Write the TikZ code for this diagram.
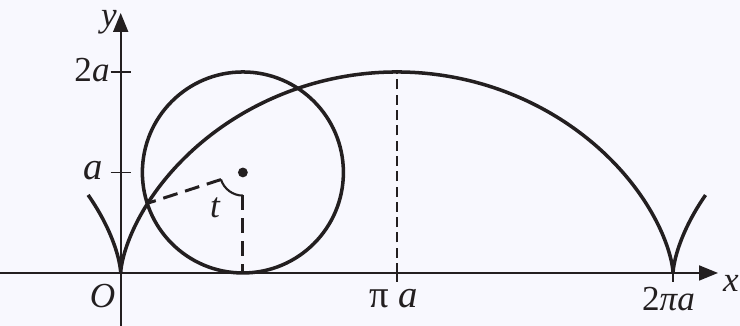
\documentclass[tikz,border=0pt]{standalone}
\usepackage{fontspec}
\setmainfont{Liberation Serif}
\usetikzlibrary{arrows.meta,calc}
\definecolor{paper}{HTML}{F8F8FE}
\definecolor{ink}{HTML}{231F20}

\begin{document}
\begin{tikzpicture}[x=1.758cm, y=2.01cm,
  every node/.style={inner sep=0pt, text=ink, font=\fontsize{20}{24}\selectfont\itshape},
  biglabel/.style={font=\fontsize{22}{26}\selectfont\itshape},
  axisline/.style={line width=1pt, draw=ink},
  axisarrow/.style={axisline, -{Triangle[length=0.38cm, width=0.3cm]}},
  curve/.style={line width=2pt, draw=ink},
  radial/.style={line width=1.7pt, draw=ink, dash pattern=on 8.5pt off 4.5pt},
  guide/.style={line width=1.4pt, draw=ink, dash pattern=on 5.7pt off 3pt}]

  % ── Page with its margins ─────────────────────────────────────
  \fill[paper] (-1.373,-0.527) rectangle (7.045,2.716);
  \useasboundingbox (-1.373,-0.527) rectangle (7.045,2.716);

  % ── Axes, ticks and their labels ──────────────────────────────
  \draw[axisarrow] (-1.373,0) -- (6.795,0);
  \draw[axisarrow] (0,-0.527) -- (0,2.587);
  \draw[axisline] (-0.114,1) -- (0.114,1);
  \draw[axisline] (-0.114,2) -- (0.114,2);
  \draw[axisline, line width=1.5pt] (pi,0.09) -- (pi,-0.09);
  \draw[axisline, line width=1.5pt] (2*pi,0.09) -- (2*pi,-0.09);

  \node (lblx) at (6.943,-0.1) {x};
  \node (lbly) at (-0.133,2.49) {y};
  \node (lblO) at (-0.207,-0.229) {O};
  \node[biglabel, anchor=east] (lbla) at (-0.2,1.02) {a};
  \node[anchor=east] (lbltwoa) at (-0.122,2.02) {{\upshape 2}a};
  \node[biglabel] (lblpia) at (3.109,-0.259) {{\upshape π} a};
  \node (lbltwopia) at (6.232,-0.259) {{\upshape 2}πa};

  % ── Highest point of the arch ─────────────────────────────────
  \draw[guide] (pi,0) -- (pi,2);

  % ── Cycloid, three arcs meeting at the cusps ──────────────────
  \draw[curve]
    plot[domain=-1.345:0, samples=60] ({\x - sin(\x r)}, {1 - cos(\x r)})
    plot[domain=0:6.2832, samples=240] ({\x - sin(\x r)}, {1 - cos(\x r)})
    plot[domain=6.2832:7.628, samples=60] ({\x - sin(\x r)}, {1 - cos(\x r)});

  % ── Rolling circle, its centre and the angle t ────────────────
  \coordinate (C) at (1.39,1);
  \coordinate (P) at ({1.26 - sin(1.26 r)}, {1 - cos(1.26 r)});
  \coordinate (foot) at (1.39,0);
  \draw[curve] (C) circle[radius=2.01cm];
  \fill[ink] (C) circle (2.8pt);

  \coordinate (armend) at ($(C)!0.46cm!(P)$);
  \coordinate (arcend) at ($(C)+(0,-0.46cm)$);
  \draw[radial] (armend) -- (P);
  \draw[radial] (arcend) -- (foot);
  \draw[ink, line width=1.2pt] (armend) arc[start angle=197.6, end angle=270, radius=0.46cm];
  \node (lblt) at (1.073,0.652) {t};

\end{tikzpicture}
\end{document}
